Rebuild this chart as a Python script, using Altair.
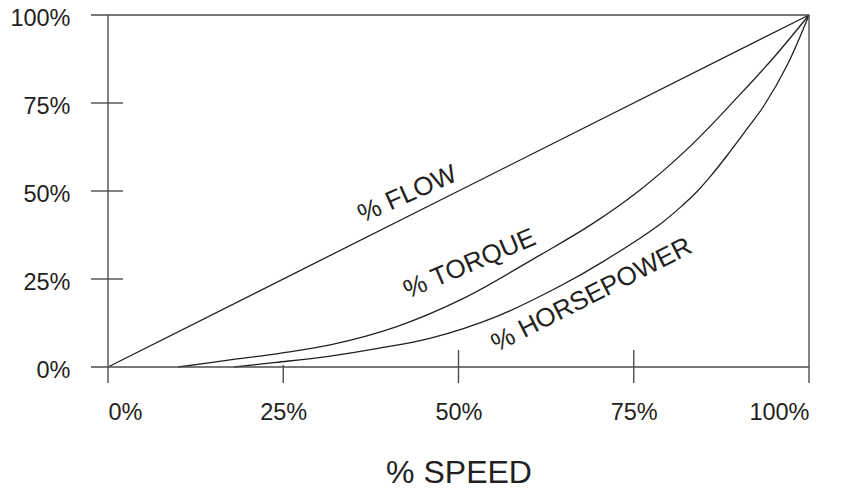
import altair as alt
import pandas as pd

# ---- data ----
flow_speed = [0, 100]
flow_value = [0, 100]

torque_speed = [10, 17.4, 24.5, 31.7, 41.2, 50.7, 61.8, 68.8, 75.9, 83.0, 90.1, 95.0, 100]
torque_value = [0, 2.0, 3.9, 6.3, 11.5, 19.5, 32.0, 40.3, 50.3, 62.6, 77.3, 88.0, 100]

hp_speed = [18, 24, 31.7, 38.5, 45.9, 55.4, 64.5, 70.5, 78.7, 82.0, 84.0, 86.0, 88.2, 91.1, 93.5, 96.9, 100]
hp_value = [0, 1.3, 3.1, 5.3, 8.1, 14.3, 23.0, 29.8, 40.5, 46.0, 49.8, 54.3, 59.8, 67.5, 74.0, 85.8, 100]

x_ticks = [0, 25, 50, 75, 100]
y_ticks = [0, 25, 50, 75, 100]

label_text = ["% FLOW", "% TORQUE", "% HORSEPOWER"]
label_speed = [42.7, 51.6, 69.0]
label_value = [49.1, 29.3, 20.5]

ink = "#231f20"
frame = "#4d4d4d"
font = "Liberation Sans"

rows = []
for name, xs, ys in [("FLOW", flow_speed, flow_value),
                     ("TORQUE", torque_speed, torque_value),
                     ("HORSEPOWER", hp_speed, hp_value)]:
    for i, (a, b) in enumerate(zip(xs, ys)):
        rows.append({"series": name, "speed": a, "value": b, "order": i})
df = pd.DataFrame(rows)

xscale = alt.Scale(domain=[0, 100], nice=False, zero=False)
yscale = alt.Scale(domain=[0, 100], nice=False, zero=False)

W, H = 701, 352

lines = alt.Chart(df).mark_line(color=ink, strokeWidth=1.3, interpolate="catmull-rom").encode(
    x=alt.X("speed:Q", scale=xscale,
            axis=alt.Axis(values=x_ticks, labelExpr="datum.value + '%'",
                          labelPadding=33, titlePadding=34, titleFontSize=32,
                          titleFontWeight="normal", titleFont=font, titleColor=ink),
            title="% SPEED"),
    y=alt.Y("value:Q", scale=yscale,
            axis=alt.Axis(values=y_ticks, labelExpr="datum.value + '%'",
                          labelPadding=38, labelOffset=3),
            title=""),
    detail="series:N",
    order="order:Q",
)

# frame & ticks (decoration positioned by the scales)
yt = pd.DataFrame({"v": y_ticks})
xt = pd.DataFrame({"v": x_ticks})

h_full = alt.Chart(yt[yt.v.isin([0, 100])]).mark_rule(color=frame, strokeWidth=1.4).encode(
    y=alt.Y("v:Q", scale=yscale), x=alt.value(-17), x2=alt.value(W))
h_ticks = alt.Chart(yt[yt.v.isin([25, 50, 75])]).mark_rule(color=frame, strokeWidth=1.4).encode(
    y=alt.Y("v:Q", scale=yscale), x=alt.value(-17), x2=alt.value(15))
v_full = alt.Chart(xt[xt.v.isin([0, 100])]).mark_rule(color=frame, strokeWidth=1.4).encode(
    x=alt.X("v:Q", scale=xscale), y=alt.value(0), y2=alt.value(H + 16))
v_ticks = alt.Chart(xt[xt.v.isin([50, 75])]).mark_rule(color=frame, strokeWidth=1.4).encode(
    x=alt.X("v:Q", scale=xscale), y=alt.value(H - 17), y2=alt.value(H + 16))
v_short = alt.Chart(xt[xt.v.isin([25])]).mark_rule(color=frame, strokeWidth=1.4).encode(
    x=alt.X("v:Q", scale=xscale), y=alt.value(H - 2), y2=alt.value(H + 16))

angles = [336, 337, 333]
texts = []
for t, sx, sy, ang in zip(label_text, label_speed, label_value, angles):
    d = pd.DataFrame({"label": [t], "speed": [sx], "value": [sy]})
    texts.append(
        alt.Chart(d).mark_text(font=font, fontSize=26, color=ink, angle=ang,
                               align="center", baseline="middle").encode(
            x=alt.X("speed:Q", scale=xscale),
            y=alt.Y("value:Q", scale=yscale),
            text="label:N")
    )

chart = alt.layer(lines, h_full, h_ticks, v_full, v_ticks, v_short, *texts).properties(
    width=W, height=H,
    autosize=alt.AutoSizeParams(type="none"),
    padding={"left": 100, "top": 7, "right": 28, "bottom": 116},
    background="white",
).configure_view(strokeWidth=0).configure_axis(
    domain=False, ticks=False, grid=False,
    labelFont=font, labelFontSize=23.5, labelColor=ink,
)

chart.save("out.html", embed_options={"renderer": "svg", "actions": False})
